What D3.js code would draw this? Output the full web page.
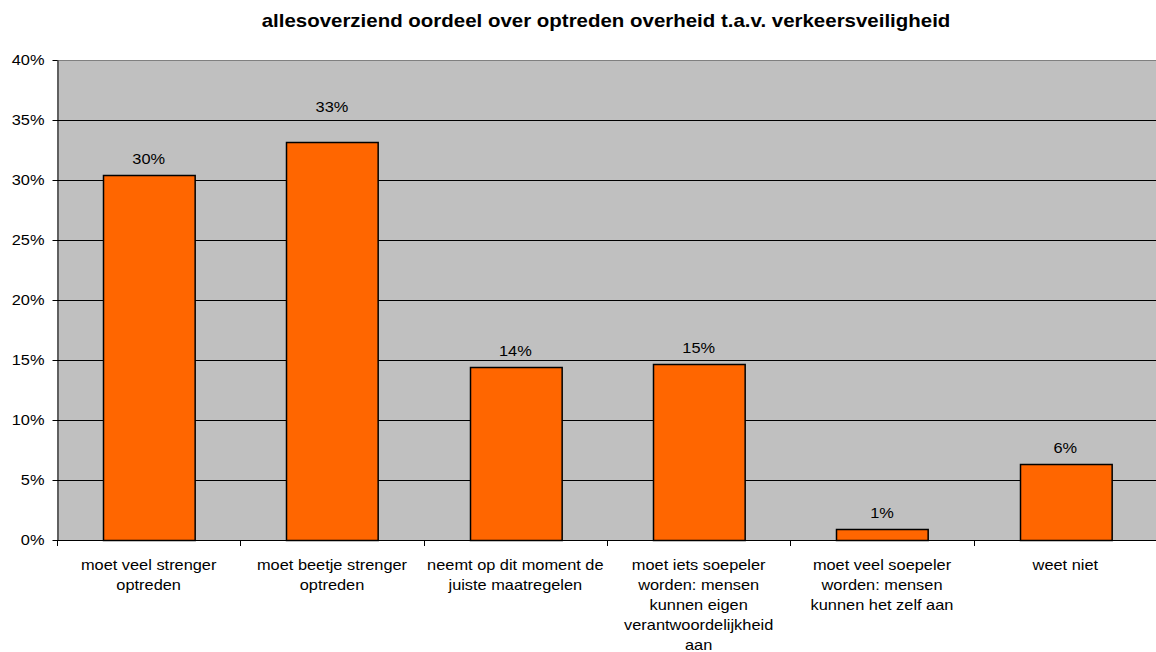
<!DOCTYPE html>
<html><head><meta charset="utf-8">
<script src="https://cdn.jsdelivr.net/npm/d3@7"></script>
<style>body{margin:0;background:#fff;}svg{display:block;font-family:"Liberation Sans",Arial,sans-serif;}</style>
</head><body><svg id="c" width="1156" height="652"></svg>
<script>
const title = "allesoverziend oordeel over optreden overheid t.a.v. verkeersveiligheid";
const categories = [
  "moet veel strenger\noptreden",
  "moet beetje strenger\noptreden",
  "neemt op dit moment de\njuiste maatregelen",
  "moet iets soepeler\nworden: mensen\nkunnen eigen\nverantwoordelijkheid\naan",
  "moet veel soepeler\nworden: mensen\nkunnen het zelf aan",
  "weet niet"
];
const values = [30.4, 33.2, 14.4, 14.7, 0.9, 6.3];
const yTicks = [0, 5, 10, 15, 20, 25, 30, 35, 40];

// styling: the second value label sits higher in the original
const labelLift = [0, 19, 0, 0, 0, 0];
const SX = 1.17; // horizontal text stretch
const svg = d3.select("#c");
const m = {left: 57, right: 1157, top: 60, bottom: 540};
const x = d3.scaleBand().domain(d3.range(categories.length)).range([m.left, m.right]).paddingInner(0.5).paddingOuter(0.25);
const y = d3.scaleLinear().domain([0, 40]).range([m.bottom, m.top]);

svg.append("text").attr("transform", `translate(606,27) scale(${SX},1)`).attr("text-anchor", "middle")
  .attr("font-size", 17.5).attr("font-weight", "bold").attr("fill", "#000").text(title);

svg.append("rect").attr("x", m.left).attr("y", m.top).attr("width", m.right - m.left).attr("height", m.bottom - m.top).attr("fill", "#c0c0c0");
svg.append("line").attr("x1", m.left).attr("x2", m.right).attr("y1", m.top + 0.5).attr("y2", m.top + 0.5).attr("stroke", "#808080");

// grid
svg.append("g").selectAll("line").data(yTicks.filter(d => d > 0 && d < 40)).join("line")
  .attr("x1", m.left).attr("x2", m.right)
  .attr("y1", d => Math.round(y(d)) + 0.5).attr("y2", d => Math.round(y(d)) + 0.5)
  .attr("stroke", "#000").attr("stroke-width", 1);

// y axis
const ya = svg.append("g").attr("transform", `translate(${m.left + 0.5},0)`)
  .call(d3.axisLeft(y).tickValues(yTicks).tickFormat(d => d + "%").tickSize(5).tickSizeOuter(0));
ya.select(".domain").attr("stroke", "#000");
ya.selectAll(".tick line").attr("stroke", "#000");
ya.selectAll(".tick text").attr("font-size", 14).attr("fill", "#000")
  .attr("font-family", "Liberation Sans, Arial, sans-serif")
  .attr("x", 0).attr("transform", `translate(-13,0) scale(${SX},1)`);

// bars
svg.append("g").selectAll("rect").data(values).join("rect")
  .attr("x", (d, i) => Math.round(x(i)) + 0.5)
  .attr("y", d => Math.round(y(d)) + 0.5)
  .attr("width", x.bandwidth())
  .attr("height", d => Math.round(y(0)) - Math.round(y(d)))
  .attr("fill", "#ff6600").attr("stroke", "#000").attr("stroke-width", 1.5);

// value labels
svg.append("g").selectAll("text").data(values).join("text")
  .attr("transform", (d, i) => `translate(${x(i) + x.bandwidth() / 2},${y(d) - 11 - labelLift[i]}) scale(${SX},1)`)
  .attr("text-anchor", "middle").attr("font-size", 14).attr("fill", "#000")
  .text(d => Math.round(d) + "%");

// x axis
const xEdges = d3.range(categories.length + 1).map(i => m.left + i * (m.right - m.left) / categories.length);
svg.append("line").attr("x1", m.left).attr("x2", m.right).attr("y1", m.bottom + 0.5).attr("y2", m.bottom + 0.5).attr("stroke", "#000");
svg.append("g").selectAll("line").data(xEdges).join("line")
  .attr("x1", d => Math.round(d) + 0.5).attr("x2", d => Math.round(d) + 0.5)
  .attr("y1", m.bottom).attr("y2", m.bottom + 6).attr("stroke", "#000");

// category labels
const cl = svg.append("g").selectAll("text").data(categories).join("text")
  .attr("transform", (d, i) => `translate(${x(i) + x.bandwidth() / 2},570) scale(${SX},1)`)
  .attr("text-anchor", "middle").attr("font-size", 14).attr("fill", "#000");
cl.each(function(d) {
  const t = d3.select(this);
  d.split("\n").forEach((ln, j) => {
    t.append("tspan").attr("x", 0).attr("dy", j === 0 ? 0 : 20).text(ln);
  });
});
</script></body></html>
